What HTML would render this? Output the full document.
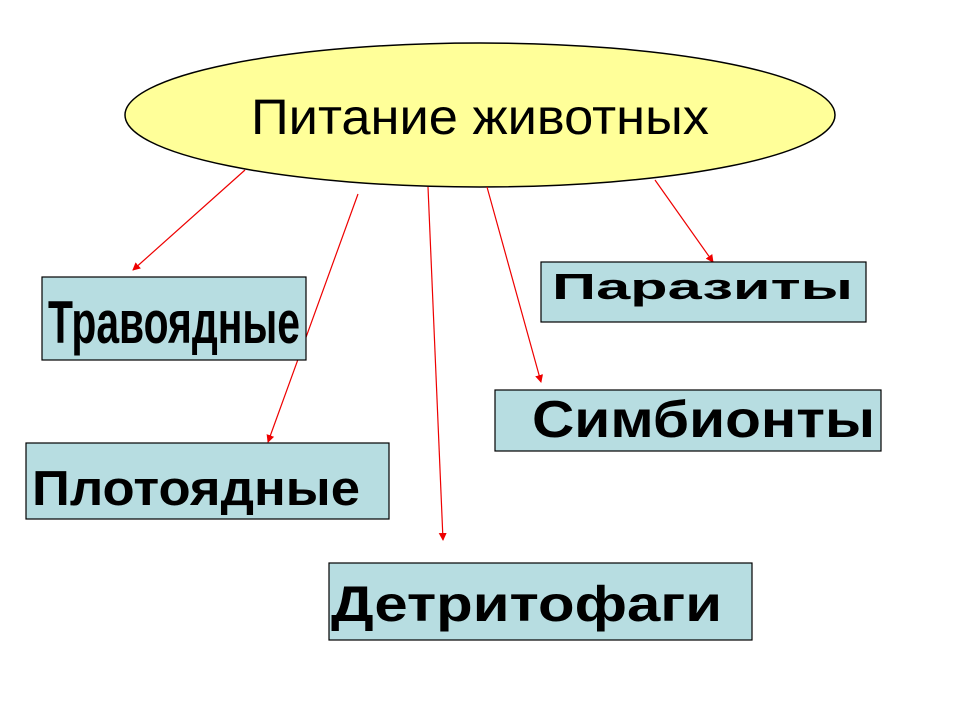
<!DOCTYPE html>
<html><head><meta charset="utf-8"><style>body{margin:0;background:#fff}svg{display:block}</style></head><body>
<svg width="960" height="720" viewBox="0 0 960 720" xmlns="http://www.w3.org/2000/svg" font-family="Liberation Sans, Arial, sans-serif">
<defs><marker id="a" markerWidth="8" markerHeight="8" refX="7" refY="4" orient="auto" markerUnits="userSpaceOnUse"><path d="M0,0 L8,4 L0,8 z" fill="#e00"/></marker></defs>
<ellipse cx="480" cy="115" rx="355" ry="72" fill="#ffff99" stroke="#000" stroke-width="1.5"/>
<text x="251" y="134" font-size="50" textLength="458" lengthAdjust="spacingAndGlyphs">Питание животных</text>
<g stroke="#e00" stroke-width="1.2" marker-end="url(#a)">
<line x1="245" y1="170" x2="133" y2="270"/>
<line x1="358" y1="194" x2="268" y2="442"/>
<line x1="428" y1="187" x2="443" y2="540"/>
<line x1="487" y1="187" x2="541" y2="382"/>
<line x1="655" y1="180" x2="713" y2="262"/>
</g>
<g fill="#b7dde1" stroke="#000" stroke-width="1.2">
<rect x="42" y="277" width="264" height="83"/>
<rect x="26" y="443" width="363" height="76"/>
<rect x="329" y="563" width="423" height="77"/>
<rect x="541" y="262" width="325" height="60"/>
<rect x="495" y="390" width="386" height="61"/>
</g>
<g font-weight="bold" fill="#000">
<text x="48" y="343" font-size="60" textLength="252" lengthAdjust="spacingAndGlyphs">Травоядные</text>
<text x="32" y="505" font-size="49" textLength="328" lengthAdjust="spacingAndGlyphs">Плотоядные</text>
<text x="331" y="621" font-size="50" textLength="391" lengthAdjust="spacingAndGlyphs">Детритофаги</text>
<text x="552" y="299" font-size="36" textLength="301" lengthAdjust="spacingAndGlyphs">Паразиты</text>
<text x="532" y="437" font-size="52" textLength="343" lengthAdjust="spacingAndGlyphs">Симбионты</text>
</g>
</svg>
</body></html>
